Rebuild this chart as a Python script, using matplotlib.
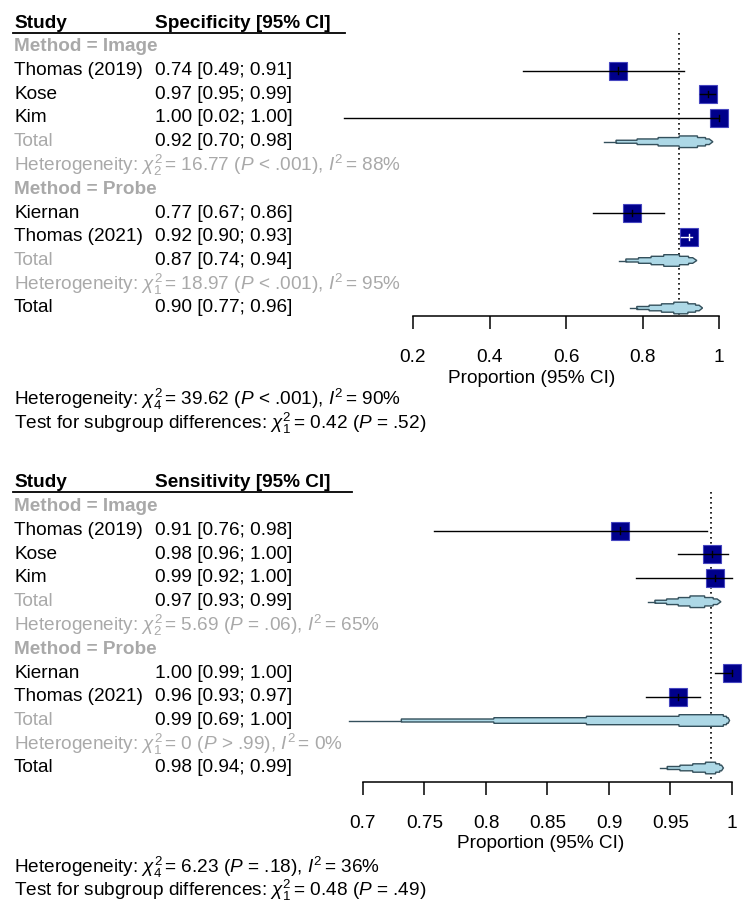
import matplotlib
matplotlib.use("Agg")
import matplotlib.pyplot as plt
from matplotlib.patches import Polygon

plt.rcParams['font.family'] = ['Liberation Sans', 'DejaVu Sans']
plt.rcParams['mathtext.fontset'] = 'custom'
plt.rcParams['mathtext.rm'] = 'Liberation Sans'
plt.rcParams['mathtext.it'] = 'Liberation Sans:italic'
plt.rcParams['mathtext.bf'] = 'Liberation Sans:bold'

# ---- data ----
studies_image = ["Thomas (2019)", "Kose", "Kim"]
studies_probe = ["Kiernan", "Thomas (2021)"]

# specificity
spec_image_est = [0.736, 0.971, 1.00]
spec_image_lo = [0.487, 0.95, 0.02]
spec_image_hi = [0.909, 0.99, 1.00]
spec_probe_est = [0.772, 0.921]
spec_probe_lo = [0.67, 0.90]
spec_probe_hi = [0.857, 0.93]
spec_total_image = [0.92, 0.70, 0.984]
spec_total_probe = [0.87, 0.738, 0.942]
spec_total_all = [0.896, 0.767, 0.957]
spec_het_image = [2, 16.77, "< .001", 88]
spec_het_probe = [1, 18.97, "< .001", 95]
spec_het_all = [4, 39.62, "< .001", 90]
spec_subgroup_test = [1, 0.42, "= .52"]
spec_ticks = [0.2, 0.4, 0.6, 0.8, 1.0]

# sensitivity
sens_image_est = [0.909, 0.984, 0.986]
sens_image_lo = [0.758, 0.956, 0.922]
sens_image_hi = [0.98, 0.997, 1.00]
sens_probe_est = [0.9996, 0.956]
sens_probe_lo = [0.986, 0.93]
sens_probe_hi = [1.00, 0.974]
sens_total_image = [0.97, 0.932, 0.991]
sens_total_probe = [0.99, 0.689, 0.998]
sens_total_all = [0.983, 0.9415, 0.993]
sens_het_image = [2, 5.69, "= .06", 65]
sens_het_probe = [1, 0, "> .99", 0]
sens_het_all = [4, 6.23, "= .18", 36]
sens_subgroup_test = [1, 0.48, "= .49"]
sens_ticks = [0.7, 0.75, 0.8, 0.85, 0.9, 0.95, 1.0]

# ---- style ----
W, H = 750, 914
ROW_PX = 23.75
FS = 13.7
GREY = "#a9a9a9"
SQ_COL = "#00008b"
FILL = "#add8e6"
EDGE = "#34505c"


def ci_text(est, lo, hi):
    return f"{est:.2f} [{lo:.2f}; {hi:.2f}]"


def chi_text(df):
    return f"$\\chi^2_{{{df}}}\\!$"


def het_text(h):
    return (f"Heterogeneity: {chi_text(h[0])} = {h[1]:g} ($P$ {h[2]}), "
            f"$I^2\\!$ = {h[3]}%")


def draw_study(ax, y, est, lo, hi):
    ax.plot([est], [y], marker='s', ms=13.3, color=SQ_COL, mec="#4646c0",
            mew=0.8, zorder=3)
    # CI inside square -> white line
    sq_val = 18.5 / ax.transData.get_matrix()[0, 0]
    col = "white" if (hi - lo) < 0.65 * sq_val else "black"
    ax.plot([lo, hi], [y, y], color=col, lw=1.0, zorder=4)
    t = 3.2 / ROW_PX
    ax.plot([est, est], [y - t, y + t], color=col, lw=1.0, zorder=4)


def draw_pooled(ax, y, est, lo, hi):
    fl = [0.86, 0.61, 0.36, 0.11]
    hh = [v / ROW_PX for v in [1.5, 2.8, 4.2, 5.8]]
    left = [est - f * (est - lo) for f in fl]
    r_a = est + 0.37 * (hi - est)
    r_b = est + 0.70 * (hi - est)
    r_c = est + 0.85 * (hi - est)
    upper = [(left[0], 0), (left[0], hh[0]), (left[1], hh[0]), (left[1], hh[1]),
             (left[2], hh[1]), (left[2], hh[2]), (left[3], hh[2]), (left[3], hh[3]),
             (r_a, hh[3]), (r_a, hh[2]), (r_b, hh[2]), (r_b, hh[1]),
             (r_c, hh[1]), (hi, 0)]
    lower = [(x, -h) for x, h in upper[::-1]][1:-1]
    pts = [(x, y + h) for x, h in upper] + [(x, y + h) for x, h in lower]
    ax.add_patch(Polygon(pts, closed=True, fc=FILL, ec=EDGE, lw=1.0, zorder=3))
    ax.plot([lo, left[0]], [y, y], color=EDGE, lw=1.0, zorder=3)


def panel(ax, first_px, x0_px, px_per_unit, tick0, header, line_end_px,
          img_est, img_lo, img_hi, prb_est, prb_lo, prb_hi,
          tot_img, tot_prb, tot_all, het_img, het_prb, het_all, sub_test,
          ticks, axis_row, xlab_px, foot_rows):
    panel_h = H / 2
    ax.set_xlim(tick0 - x0_px / px_per_unit, tick0 + (W - x0_px) / px_per_unit)
    ax.set_ylim((panel_h - first_px) / ROW_PX, -first_px / ROW_PX)
    ax.patch.set_alpha(0)
    for s in ['top', 'left', 'right']:
        ax.spines[s].set_visible(False)
    ax.set_yticks([])
    tr = ax.get_yaxis_transform()
    c1, c2 = 14 / W, 155 / W

    ax.text(c1, 0, "Study", transform=tr, fontsize=FS, fontweight='bold', va='center')
    ax.text(c2, 0, header, transform=tr, fontsize=FS, fontweight='bold', va='center')
    ax.plot([13 / W, line_end_px / W], [0.4, 0.4], transform=tr, color='black',
            lw=1.3, clip_on=False)

    row = 1
    groups = [("Image", studies_image, img_est, img_lo, img_hi, tot_img, het_img),
              ("Probe", studies_probe, prb_est, prb_lo, prb_hi, tot_prb, het_prb)]
    for name, studies, est, lo, hi, tot, het in groups:
        ax.text(c1, row, f"Method = {name}", transform=tr, fontsize=FS,
                fontweight='bold', color=GREY, va='center')
        row += 1
        for s, e, l, h in zip(studies, est, lo, hi):
            ax.text(c1, row, s, transform=tr, fontsize=FS, va='center')
            ax.text(c2, row, ci_text(e, l, h), transform=tr, fontsize=FS, va='center')
            draw_study(ax, row, e, l, h)
            row += 1
        ax.text(c1, row, "Total", transform=tr, fontsize=FS, color=GREY, va='center')
        ax.text(c2, row, ci_text(*tot), transform=tr, fontsize=FS, va='center')
        draw_pooled(ax, row, *tot)
        row += 1
        ax.text(c1, row, het_text(het), transform=tr, fontsize=FS, color=GREY,
                va='center')
        row += 1
    ax.text(c1, row, "Total", transform=tr, fontsize=FS, va='center')
    ax.text(c2, row, ci_text(*tot_all), transform=tr, fontsize=FS, va='center')
    draw_pooled(ax, row, *tot_all)

    ax.plot([tot_all[0]] * 2, [0.4, axis_row], color='black', lw=1.2,
            ls=(0, (1, 2)), zorder=2)

    ax.spines['bottom'].set_position(('data', axis_row))
    ax.spines['bottom'].set_bounds(ticks[0], ticks[-1])
    ax.spines['bottom'].set_linewidth(1.1)
    ax.set_xticks(ticks)
    ax.set_xticklabels([f"{t:g}" for t in ticks])
    ax.tick_params(axis='x', direction='out', length=9, width=1.1,
                   labelsize=FS, pad=14.5)
    ax.text(xlab_px / W, axis_row + 2.6, "Proportion (95% CI)", transform=tr,
            fontsize=FS, ha='center', va='center')

    ax.text(c1, foot_rows[0], het_text(het_all), transform=tr, fontsize=FS,
            va='center')
    ax.text(c1, foot_rows[1],
            f"Test for subgroup differences: {chi_text(sub_test[0])} = "
            f"{sub_test[1]:g} ($P$ {sub_test[2]})",
            transform=tr, fontsize=FS, va='center')


fig = plt.figure(figsize=(W / 100, H / 100), dpi=100)
ax_top = fig.add_axes([0, 0.5, 1, 0.5])
ax_bot = fig.add_axes([0, 0, 1, 0.5])

panel(ax_top, 23, 413, 382.5, 0.2, "Specificity [95% CI]", 345,
      spec_image_est, spec_image_lo, spec_image_hi,
      spec_probe_est, spec_probe_lo, spec_probe_hi,
      spec_total_image, spec_total_probe, spec_total_all,
      spec_het_image, spec_het_probe, spec_het_all, spec_subgroup_test,
      spec_ticks, 12.35, 532, (15.83, 16.84))

panel(ax_bot, 26, 363, 1230.0, 0.7, "Sensitivity [95% CI]", 352,
      sens_image_est, sens_image_lo, sens_image_hi,
      sens_probe_est, sens_probe_lo, sens_probe_hi,
      sens_total_image, sens_total_probe, sens_total_all,
      sens_het_image, sens_het_probe, sens_het_all, sens_subgroup_test,
      sens_ticks, 12.6, 541, (16.2, 17.15))

fig.savefig("out.png", dpi=100)
